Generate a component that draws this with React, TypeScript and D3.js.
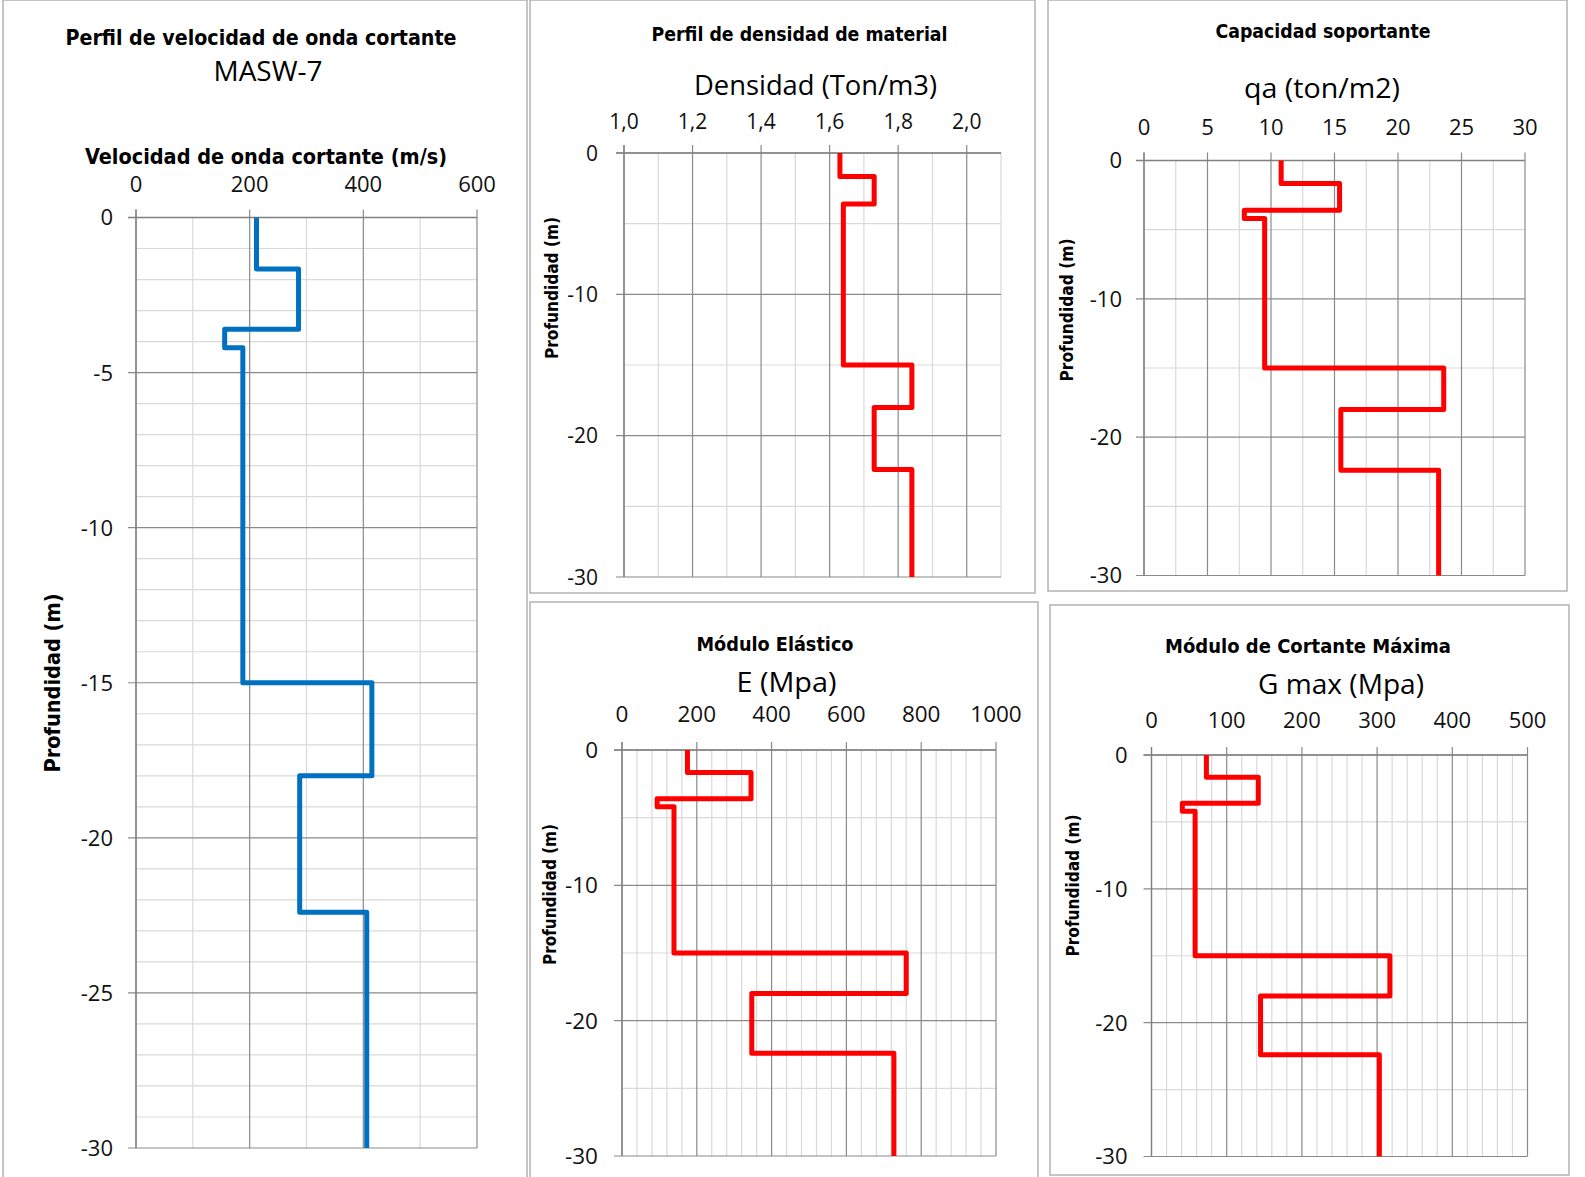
import React from "react";
import * as d3 from "d3";

// layer boundaries (m, negative downwards)
const layerDepths = [0, -1.66, -3.6, -4.2, -15, -18, -22.4, -30];

// values per layer, top to bottom
const vsValues = [212, 286, 156, 188, 415, 288, 406];
const densityValues = [1.63, 1.73, 1.64, 1.64, 1.84, 1.73, 1.84];
const qaValues = [10.8, 15.4, 7.9, 9.5, 23.6, 15.5, 23.2];
const eValues = [175, 345, 94, 139, 760, 347, 727];
const gValues = [73, 142, 41, 58, 317, 145, 303];

const REG = "'Open Sans', 'Noto Sans', sans-serif";
const BOLD = "'DejaVu Sans Condensed', 'DejaVu Sans', sans-serif";

type Box = { left: number; top: number; right: number; bottom: number };
type Txt = { text: string; x: number; y: number; len: number; size: number };

type PanelCfg = {
  frame: Box;
  plot: Box;
  xDomain: [number, number];
  xMajor: number;
  xMinor: number;
  yMajor: number;
  yMinor: number;
  fmt: (v: number) => string;
  tickSize: number;
  xLabelGap: number;
  yLabelGap: number;
  values: number[];
  color: string;
  title: Txt;
  subtitle?: Txt;
  axisTitle: Txt & { bold: boolean };
  yTitle: Txt;
};

const steps = (a: number, b: number, s: number) => {
  const n = Math.round((b - a) / s);
  return d3.range(0, n + 1).map((i) => a + i * s);
};
const isMult = (v: number, base: number, s: number) => {
  const q = (v - base) / s;
  return Math.abs(q - Math.round(q)) < 1e-6;
};

function Panel({ cfg }: { cfg: PanelCfg }) {
  const { plot, frame } = cfg;
  const x = d3.scaleLinear().domain(cfg.xDomain).range([plot.left, plot.right]);
  const y = d3.scaleLinear().domain([0, -30]).range([plot.top, plot.bottom]);

  const xs = steps(cfg.xDomain[0], cfg.xDomain[1], cfg.xMinor);
  const ys = steps(-30, 0, cfg.yMinor);
  const xMaj = xs.filter((v) => isMult(v, cfg.xDomain[0], cfg.xMajor));
  const yMaj = ys.filter((v) => isMult(v, 0, cfg.yMajor));

  const pts: [number, number][] = [];
  cfg.values.forEach((v, i) => {
    pts.push([v, layerDepths[i]]);
    pts.push([v, layerDepths[i + 1]]);
  });
  const path = d3
    .line<[number, number]>()
    .x((d) => x(d[0]))
    .y((d) => y(d[1]))(pts);

  const major = "#8a8a8a";
  const minor = "#d9d9d9";

  return (
    <g>
      <rect
        x={frame.left}
        y={frame.top}
        width={frame.right - frame.left}
        height={frame.bottom - frame.top}
        fill="white"
        stroke="#b3b3b3"
        strokeWidth={1.5}
      />
      {/* minor grid */}
      {xs
        .filter((v) => !isMult(v, cfg.xDomain[0], cfg.xMajor))
        .map((v) => (
          <line key={"xm" + v} x1={x(v)} x2={x(v)} y1={plot.top} y2={plot.bottom} stroke={minor} strokeWidth={1.2} />
        ))}
      {ys
        .filter((v) => !isMult(v, 0, cfg.yMajor))
        .map((v) => (
          <line key={"ym" + v} x1={plot.left} x2={plot.right} y1={y(v)} y2={y(v)} stroke={minor} strokeWidth={1.2} />
        ))}
      {/* major grid + outward ticks */}
      {xMaj.map((v) => (
        <line key={"xM" + v} x1={x(v)} x2={x(v)} y1={plot.top - 8} y2={plot.bottom} stroke={major} strokeWidth={1.2} />
      ))}
      {yMaj.map((v) => (
        <line key={"yM" + v} x1={plot.left - 8} x2={plot.right} y1={y(v)} y2={y(v)} stroke={major} strokeWidth={1.2} />
      ))}
      <line x1={plot.left} x2={plot.left} y1={plot.top - 8} y2={plot.bottom} stroke="#808080" strokeWidth={1.3} />
      <line x1={plot.left - 8} x2={plot.right} y1={plot.top} y2={plot.top} stroke="#808080" strokeWidth={1.3} />

      {/* tick labels */}
      {xMaj.map((v) => (
        <text
          key={"xl" + v}
          x={x(v)}
          y={plot.top - cfg.xLabelGap}
          textAnchor="middle"
          fontFamily={REG}
          fontSize={cfg.tickSize}
          fill="#111"
        >
          {cfg.fmt(v)}
        </text>
      ))}
      {yMaj.map((v) => (
        <text
          key={"yl" + v}
          x={plot.left - cfg.yLabelGap}
          y={y(v)}
          dy="0.36em"
          textAnchor="end"
          fontFamily={REG}
          fontSize={cfg.tickSize}
          fill="#111"
        >
          {v === 0 ? "0" : "-" + Math.abs(v)}
        </text>
      ))}

      <path d={path ?? ""} fill="none" stroke={cfg.color} strokeWidth={5} strokeLinejoin="round" />

      {/* titles */}
      <text
        x={cfg.title.x}
        y={cfg.title.y}
        dy="0.36em"
        textAnchor="middle"
        fontFamily={BOLD}
        fontWeight="bold"
        fontSize={cfg.title.size}
        textLength={cfg.title.len}
        lengthAdjust="spacingAndGlyphs"
      >
        {cfg.title.text}
      </text>
      {cfg.subtitle && (
        <text
          x={cfg.subtitle.x}
          y={cfg.subtitle.y}
          dy="0.36em"
          textAnchor="middle"
          fontFamily={REG}
          fontSize={cfg.subtitle.size}
          textLength={cfg.subtitle.len}
          lengthAdjust="spacingAndGlyphs"
        >
          {cfg.subtitle.text}
        </text>
      )}
      <text
        x={cfg.axisTitle.x}
        y={cfg.axisTitle.y}
        dy="0.36em"
        textAnchor="middle"
        fontFamily={cfg.axisTitle.bold ? BOLD : REG}
        fontWeight={cfg.axisTitle.bold ? "bold" : "normal"}
        fontSize={cfg.axisTitle.size}
        textLength={cfg.axisTitle.len}
        lengthAdjust="spacingAndGlyphs"
      >
        {cfg.axisTitle.text}
      </text>
      <text
        transform={`translate(${cfg.yTitle.x},${cfg.yTitle.y}) rotate(-90)`}
        dy="0.36em"
        textAnchor="middle"
        fontFamily={BOLD}
        fontWeight="bold"
        fontSize={cfg.yTitle.size}
        textLength={cfg.yTitle.len}
        lengthAdjust="spacingAndGlyphs"
      >
        {cfg.yTitle.text}
      </text>
    </g>
  );
}

const intFmt = (v: number) => String(Math.round(v));
const commaFmt = (v: number) => v.toFixed(1).replace(".", ",");

const panels: PanelCfg[] = [
  {
    frame: { left: 3, top: 0, right: 527, bottom: 1180 },
    plot: { left: 136, top: 217.5, right: 477, bottom: 1148 },
    xDomain: [0, 600],
    xMajor: 200,
    xMinor: 100,
    yMajor: 5,
    yMinor: 1,
    fmt: intFmt,
    tickSize: 22,
    xLabelGap: 26,
    yLabelGap: 23,
    values: vsValues,
    color: "#0070C0",
    title: { text: "Perfil de velocidad de onda cortante", x: 261, y: 37.5, len: 391, size: 22 },
    subtitle: { text: "MASW-7", x: 268, y: 71, len: 109, size: 28 },
    axisTitle: { text: "Velocidad de onda cortante (m/s)", x: 266, y: 156, len: 362, size: 21, bold: true },
    yTitle: { text: "Profundidad (m)", x: 52, y: 683, len: 179, size: 22 },
  },
  {
    frame: { left: 530, top: 0, right: 1035, bottom: 593 },
    plot: { left: 624, top: 153, right: 1001, bottom: 577 },
    xDomain: [1.0, 2.1],
    xMajor: 0.2,
    xMinor: 0.1,
    yMajor: 10,
    yMinor: 5,
    fmt: commaFmt,
    tickSize: 21,
    xLabelGap: 24,
    yLabelGap: 26,
    values: densityValues,
    color: "#FF0000",
    title: { text: "Perfil de densidad de material", x: 799.5, y: 33.5, len: 296, size: 20 },
    axisTitle: { text: "Densidad (Ton/m3)", x: 815.5, y: 85, len: 243, size: 27, bold: false },
    yTitle: { text: "Profundidad (m)", x: 552, y: 288, len: 142, size: 18 },
  },
  {
    frame: { left: 1048, top: 0, right: 1567, bottom: 591 },
    plot: { left: 1144, top: 160.5, right: 1525, bottom: 575.5 },
    xDomain: [0, 30],
    xMajor: 5,
    xMinor: 2.5,
    yMajor: 10,
    yMinor: 5,
    fmt: intFmt,
    tickSize: 22,
    xLabelGap: 26,
    yLabelGap: 22,
    values: qaValues,
    color: "#FF0000",
    title: { text: "Capacidad soportante", x: 1323, y: 30.5, len: 215, size: 20 },
    axisTitle: { text: "qa (ton/m2)", x: 1322, y: 88, len: 156, size: 28, bold: false },
    yTitle: { text: "Profundidad (m)", x: 1067, y: 310, len: 143, size: 18 },
  },
  {
    frame: { left: 530, top: 602, right: 1038, bottom: 1180 },
    plot: { left: 622, top: 750, right: 996, bottom: 1156 },
    xDomain: [0, 1000],
    xMajor: 200,
    xMinor: 40,
    yMajor: 10,
    yMinor: 5,
    fmt: intFmt,
    tickSize: 22.5,
    xLabelGap: 28,
    yLabelGap: 24,
    values: eValues,
    color: "#FF0000",
    title: { text: "Módulo Elástico", x: 775, y: 644, len: 157, size: 20 },
    axisTitle: { text: "E (Mpa)", x: 786.5, y: 682, len: 100, size: 28, bold: false },
    yTitle: { text: "Profundidad (m)", x: 550, y: 894.5, len: 141, size: 18 },
  },
  {
    frame: { left: 1050, top: 605, right: 1569, bottom: 1175 },
    plot: { left: 1151.5, top: 755, right: 1527.5, bottom: 1156.5 },
    xDomain: [0, 500],
    xMajor: 100,
    xMinor: 20,
    yMajor: 10,
    yMinor: 5,
    fmt: intFmt,
    tickSize: 22,
    xLabelGap: 27,
    yLabelGap: 24,
    values: gValues,
    color: "#FF0000",
    title: { text: "Módulo de Cortante Máxima", x: 1308, y: 646, len: 286, size: 20 },
    axisTitle: { text: "G max (Mpa)", x: 1341, y: 684, len: 166, size: 28, bold: false },
    yTitle: { text: "Profundidad (m)", x: 1072.5, y: 885.5, len: 142, size: 18 },
  },
];

export default function App() {
  return (
    <svg
      width={1585}
      height={1177}
      style={{ position: "absolute", left: 0, top: 0, background: "white" }}
    >
      {panels.map((p, i) => (
        <Panel key={i} cfg={p} />
      ))}
    </svg>
  );
}
